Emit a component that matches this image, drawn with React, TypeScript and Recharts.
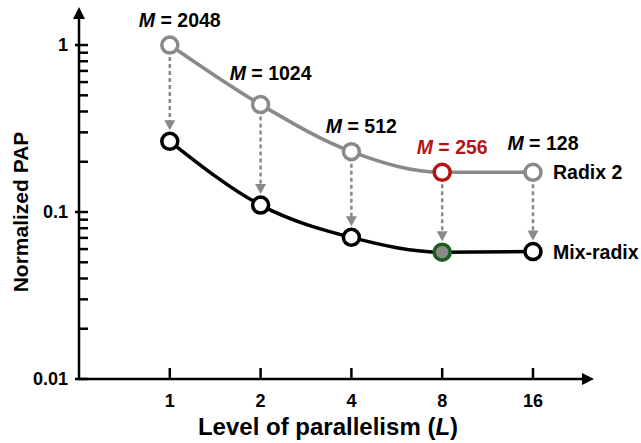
import { LineChart, Line, XAxis, YAxis, ReferenceLine, LabelList, Label } from 'recharts';

const levels = [1, 2, 4, 8, 16];
const radix2 = [1.0, 0.44, 0.23, 0.173, 0.173];
const mixRadix = [0.265, 0.11, 0.0705, 0.0575, 0.058];
const memSizes = [2048, 1024, 512, 256, 128];
const yMajorTicks = [0.01, 0.1, 1];
const yMinorTicks = [0.02, 0.03, 0.04, 0.05, 0.06, 0.07, 0.08, 0.09, 0.2, 0.3, 0.4, 0.5, 0.6, 0.7, 0.8, 0.9];
const seriesNames = ['Radix 2', 'Mix-radix'];
const bestIndex = 3;

const data = levels.map((L, i) => ({ L, radix: radix2[i], mix: mixRadix[i], m: memSizes[i] }));
const yTicks = [...yMajorTicks, ...yMinorTicks].sort((a, b) => a - b);

const FONT = '"Liberation Sans", Arial, sans-serif';
const GRAY = '#8a8a8a';
const RED = '#b51414';
const GREEN = '#1d5e1d';

// how far above each point the "M = ..." label sits
const labelLift = [-18, -25, -19, -18, -22];

// y ticks point into the plot; the labelled ones poke out a little to the left
function YTick(props: any) {
  const { y, payload } = props;
  const major = yMajorTicks.includes(payload.value);
  return (
    <g>
      <rect x={major ? 75 : 79} y={y - 1.25} width={major ? 13 : 9} height={2.5} fill="#000" />
      {major && (
        <text x={68} y={y + 6} textAnchor="end" fontFamily={FONT} fontWeight="bold" fontSize={18} fill="#000">
          {payload.value}
        </text>
      )}
    </g>
  );
}

function XTick(props: any) {
  const { x, payload } = props;
  return (
    <g>
      <rect x={x - 1.25} y={368} width={2.5} height={11} fill="#000" />
      <text x={x} y={407} textAnchor="middle" fontFamily={FONT} fontWeight="bold" fontSize={18} fill="#000">
        {payload.value}
      </text>
    </g>
  );
}

const makeDot = (color: string, special: { stroke: string; fill: string }) => (props: any) => {
  const { cx, cy, index } = props;
  const hi = index === bestIndex;
  return (
    <circle
      key={`d-${index}`}
      cx={cx}
      cy={cy}
      r={8}
      fill={hi ? special.fill : '#fff'}
      stroke={hi ? special.stroke : color}
      strokeWidth={3.5}
    />
  );
};

function MLabel(props: any) {
  const { x, y, value, index } = props;
  const hi = index === bestIndex;
  return (
    <text
      x={x + 10}
      y={y + labelLift[index]}
      textAnchor="middle"
      fontFamily={FONT}
      fontWeight="bold"
      fontSize={19.5}
      fill={hi ? RED : '#000'}
    >
      <tspan fontStyle="italic">M</tspan> = {value}
    </text>
  );
}

const nameLabel = (name: string) => (props: any) => {
  const { x, y, index } = props;
  if (index !== levels.length - 1) return null;
  return (
    <text x={x + 20} y={y + 7} fontFamily={FONT} fontWeight="bold" fontSize={19.5} fill="#000">
      {name}
    </text>
  );
};

function DropArrow(props: any) {
  const { x1, y1, x2, y2 } = props;
  const top = Math.min(y1, y2) + 12;
  const tip = Math.max(y1, y2) - 11;
  return (
    <g>
      <line x1={x1} x2={x2} y1={top} y2={tip - 7} stroke={GRAY} strokeWidth={2.5} strokeDasharray="4 3" />
      <path d={`M${x1 - 5.5},${tip - 10} L${x1 + 5.5},${tip - 10} L${x1},${tip} Z`} fill={GRAY} />
    </g>
  );
}

function XAxisArrow(props: any) {
  const { x1, y1, x2 } = props;
  const right = Math.max(x1, x2);
  const left = Math.min(x1, x2);
  return (
    <g>
      <line x1={left - 1} x2={right - 6} y1={y1} y2={y1} stroke="#000" strokeWidth={2.5} />
      <path d={`M${right - 11},${y1 - 6} L${right + 1},${y1} L${right - 11},${y1 + 6} Z`} fill="#000" />
    </g>
  );
}

function YAxisArrow(props: any) {
  const { x1, y1, y2 } = props;
  const top = Math.min(y1, y2);
  const bottom = Math.max(y1, y2);
  return (
    <g>
      <line x1={x1} x2={x1} y1={bottom + 1} y2={top + 6} stroke="#000" strokeWidth={2.5} />
      <path d={`M${x1 - 6},${top + 12} L${x1},${top} L${x1 + 6},${top + 12} Z`} fill="#000" />
    </g>
  );
}

export default function App() {
  return (
    <div style={{ position: 'absolute', left: 0, top: 0, background: '#fff' }}>
      <LineChart width={641} height={443} data={data} margin={{ top: 7, right: 48, bottom: 0, left: 0 }}>
        <XAxis
          dataKey="L"
          type="number"
          scale="log"
          domain={[0.5, 25.3]}
          allowDataOverflow
          ticks={levels}
          interval={0}
          height={64}
          axisLine={false}
          tickLine={false}
          tick={<XTick />}
        >
          <Label
            content={(p: any) => {
              const vb = p.viewBox;
              return (
                <text x={vb.x + vb.width / 2 - 8} y={435} textAnchor="middle" fontFamily={FONT} fontWeight="bold" fontSize={24} fill="#000">
                  Level of parallelism (<tspan fontStyle="italic">L</tspan>)
                </text>
              );
            }}
          />
        </XAxis>
        <YAxis
          type="number"
          scale="log"
          domain={[0.01, 1.69]}
          allowDataOverflow
          ticks={yTicks}
          interval={0}
          width={79}
          axisLine={false}
          tickLine={false}
          tick={<YTick />}
        >
          <Label
            content={() => (
              <text
                x={0}
                y={0}
                transform="translate(28,212) rotate(-90)"
                textAnchor="middle"
                fontFamily={FONT}
                fontWeight="bold"
                fontSize={21}
                fill="#000"
              >
                Normalized PAP
              </text>
            )}
          />
        </YAxis>
        <ReferenceLine y={0.01} shape={<XAxisArrow />} />
        <ReferenceLine x={0.5} shape={<YAxisArrow />} />
        {levels.map((L, i) => (
          <ReferenceLine
            key={L}
            segment={[
              { x: L, y: radix2[i] },
              { x: L, y: mixRadix[i] },
            ]}
            shape={<DropArrow />}
          />
        ))}
        <Line
          dataKey="radix"
          type="monotone"
          stroke={GRAY}
          strokeWidth={3.5}
          dot={makeDot(GRAY, { stroke: RED, fill: '#fff' })}
          activeDot={false}
          isAnimationActive={false}
        >
          <LabelList dataKey="m" content={<MLabel />} />
          <LabelList dataKey="radix" content={nameLabel(seriesNames[0])} />
        </Line>
        <Line
          dataKey="mix"
          type="monotone"
          stroke="#000"
          strokeWidth={3.5}
          dot={makeDot('#000', { stroke: GREEN, fill: GRAY })}
          activeDot={false}
          isAnimationActive={false}
        >
          <LabelList dataKey="mix" content={nameLabel(seriesNames[1])} />
        </Line>
      </LineChart>
    </div>
  );
}
